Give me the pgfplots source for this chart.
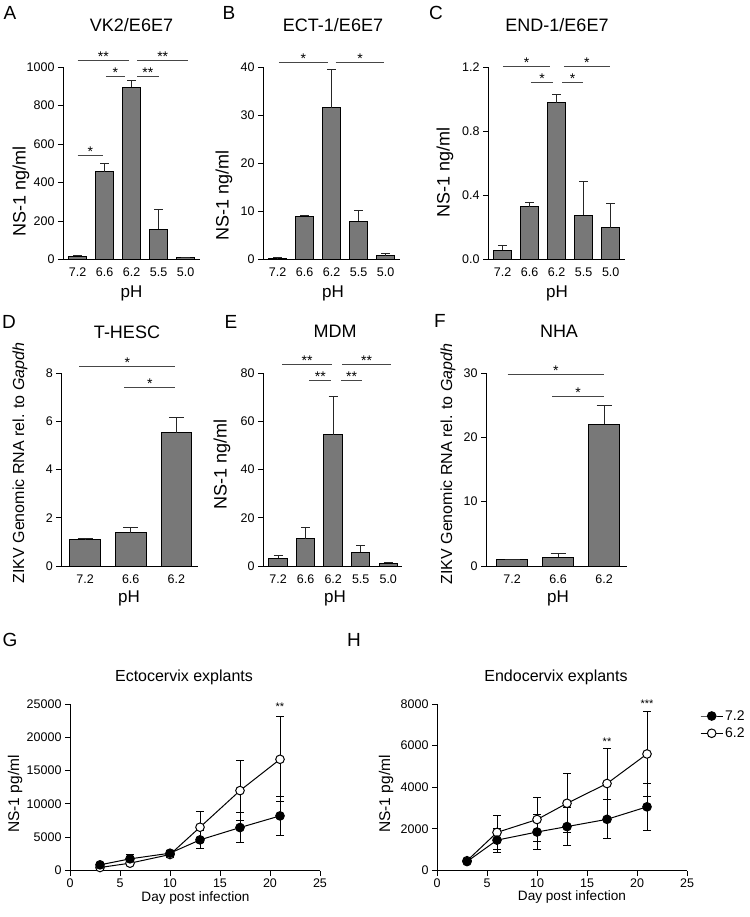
\documentclass[border=0pt]{standalone}
\usepackage{fontspec}
\setmainfont{Liberation Sans}
\usepackage{pgfplots}
\pgfplotsset{compat=1.18}
\definecolor{barfill}{RGB}{120,120,120}
\definecolor{sigcol}{RGB}{70,70,70}
\newcommand{\fs}[1]{\fontsize{#1bp}{#1bp}\selectfont}
\newcommand{\sig}[4]{\draw[sigcol, line width=1bp] (axis cs:#1,#3) -- node[midway, anchor=base, yshift=-1bp, black, font=\fs{14}, inner sep=0pt] {#4} (axis cs:#2,#3);}
\newcommand{\sigs}[3]{\node[anchor=base, black, font=\fs{11}, inner sep=0pt] at (axis cs:#1,#2) {#3};}
\pgfplotsset{
  gp/.style={
    scale only axis, anchor=south west,
    axis lines=left,
    axis line style={-, line width=1bp, black},
    x axis line style={-}, y axis line style={-},
    tick align=outside,
    major tick length=5bp,
    tick style={line width=1bp, black},
    tick label style={font=\fs{12.5}},
    /pgf/number format/assume math mode=true,
    /pgf/number format/1000 sep={},
    scaled y ticks=false, scaled x ticks=false,
    clip=false, ymin=0,
  },
  barax/.style={gp, xtick={0,...,4}, xticklabels={7.2,6.6,6.2,5.5,5.0},
    xtick style={draw=none}, xmin=-0.54, xmax=4.53, width=137bp, height=192.5bp},
  barax3/.style={gp, xtick={0,1,2}, xticklabels={7.2,6.6,6.2},
    xtick style={draw=none}, height=193bp},
  bars/.style={ybar, bar width=0.67, fill=barfill, draw=black, line width=1bp,
    error bars/.cd, y dir=plus, y explicit,
    error bar style={line width=1bp, black!85},
    error mark options={rotate=90, line width=1bp, black!85, mark size=#1}},
  bars/.default=4.5bp,
  lineax/.style={gp, width=250bp, height=166.5bp, xmin=0, xmax=25, xtick={0,5,...,25}},
  ser/.style={black, line width=1bp, mark=*, mark size=4.3bp, mark options={fill=#1, draw=black, line width=1bp},
    error bars/.cd, y dir=both, y explicit,
    error bar style={line width=1bp, black},
    error mark options={rotate=90, line width=1bp, black, mark size=4bp}},
}
\begin{document}
\begin{tikzpicture}
\useasboundingbox (0,0) rectangle (750bp,-917bp);
% ---------- panel letters ----------
\node[font=\fs{19}] at (10bp,-13bp) {A};
\node[font=\fs{19}] at (229bp,-13bp) {B};
\node[font=\fs{19}] at (436bp,-13bp) {C};
\node[font=\fs{19}] at (9bp,-322bp) {D};
\node[font=\fs{19}] at (231bp,-322bp) {E};
\node[font=\fs{19}] at (440bp,-321bp) {F};
\node[font=\fs{19}] at (10bp,-640bp) {G};
\node[font=\fs{19}] at (354bp,-640bp) {H};
% ---------- titles ----------
\node[font=\fs{18}] at (131.5bp,-25bp) {VK2/E6E7};
\node[font=\fs{18}] at (333bp,-25bp) {ECT-1/E6E7};
\node[font=\fs{18}] at (557bp,-25bp) {END-1/E6E7};
\node[font=\fs{18}] at (127bp,-332bp) {T-HESC};
\node[font=\fs{18}] at (335bp,-331bp) {MDM};
\node[font=\fs{18}] at (559bp,-331bp) {NHA};
\node[font=\fs{16}] at (184bp,-677bp) {Ectocervix explants};
\node[font=\fs{16}] at (556bp,-677bp) {Endocervix explants};
% ---------- axis labels ----------
\node[font=\fs{18}, rotate=90] at (21bp,-191bp) {NS-1 ng/ml};
\node[font=\fs{18}, rotate=90] at (224bp,-195bp) {NS-1 ng/ml};
\node[font=\fs{18}, rotate=90] at (445bp,-172bp) {NS-1 ng/ml};
\node[font=\fs{16}, rotate=90] at (20bp,-463bp) {ZIKV Genomic RNA rel. to \textit{Gapdh}};
\node[font=\fs{18}, rotate=90] at (222bp,-464bp) {NS-1 ng/ml};
\node[font=\fs{16}, rotate=90] at (448bp,-464bp) {ZIKV Genomic RNA rel. to \textit{Gapdh}};
\node[font=\fs{15.5}, rotate=90] at (15bp,-794bp) {NS-1 pg/ml};
\node[font=\fs{15.5}, rotate=90] at (386bp,-794bp) {NS-1 pg/ml};
\node[font=\fs{17}] at (131.5bp,-293bp) {pH};
\node[font=\fs{17}] at (333bp,-293bp) {pH};
\node[font=\fs{17}] at (557bp,-293bp) {pH};
\node[font=\fs{17}] at (129bp,-598bp) {pH};
\node[font=\fs{17}] at (335bp,-598bp) {pH};
\node[font=\fs{17}] at (558bp,-598bp) {pH};
\node[font=\fs{13.6}] at (195.5bp,-898bp) {Day post infection};
\node[font=\fs{13.6}] at (572bp,-897bp) {Day post infection};

% ---------- A ----------
\begin{axis}[barax, at={(63bp,-259.5bp)}, ymax=1000, ytick={0,200,...,1000}]
\addplot[bars] coordinates {(0,18) +- (0,3) (1,455) +- (0,42) (2,894) +- (0,35) (3,157) +- (0,101) (4,8) +- (0,4)};
\sig{0}{1.9}{1036}{**}
\sig{2.2}{4.1}{1036}{**}
\sig{1.05}{1.75}{953}{*}
\sig{2.2}{3.0}{953}{**}
\sig{0}{0.95}{538}{*}
\end{axis}
% ---------- B ----------
\begin{axis}[barax, at={(263bp,-259.5bp)}, ymax=40, ytick={0,10,...,40}]
\addplot[bars] coordinates {(0,0.3) +- (0,0.1) (1,9.0) +- (0,0.2) (2,31.5) +- (0,8.0) (3,8.0) +- (0,2.2) (4,0.8) +- (0,0.4)};
\sig{0.05}{1.85}{41.0}{*}
\sig{2.15}{3.95}{41.0}{*}
\end{axis}
% ---------- C ----------
\begin{axis}[barax, at={(488bp,-259.5bp)}, ymax=1.2, ytick={0,0.4,0.8,1.2},
  yticklabel style={/pgf/number format/.cd, fixed, fixed zerofill, precision=1}]
\addplot[bars] coordinates {(0,0.058) +- (0,0.031) (1,0.328) +- (0,0.027) (2,0.976) +- (0,0.052) (3,0.276) +- (0,0.208) (4,0.197) +- (0,0.152)};
\sig{0.01}{1.76}{1.206}{*}
\sig{2.27}{3.97}{1.206}{*}
\sig{1.05}{1.87}{1.106}{*}
\sig{2.2}{2.98}{1.106}{*}
\end{axis}
% ---------- D ----------
\begin{axis}[barax3, at={(61.3bp,-566bp)}, width=137bp, xmin=-0.52, xmax=2.48, ymax=8, ytick={0,2,...,8}]
\addplot[bars=7.5bp] coordinates {(0,1.08) +- (0,0.07) (1,1.38) +- (0,0.21) (2,5.52) +- (0,0.63)};
\sig{-0.13}{1.98}{8.29}{*}
\sig{0.86}{1.98}{7.42}{*}
\end{axis}
% ---------- E ----------
\begin{axis}[barax, at={(263bp,-566bp)}, width=139bp, height=193bp, xmin=-0.55, xmax=4.5, ymax=80, ytick={0,20,...,80}]
\addplot[bars] coordinates {(0,3.2) +- (0,1.1) (1,11.2) +- (0,4.7) (2,54.5) +- (0,15.8) (3,5.7) +- (0,2.6) (4,1.1) +- (0,0.4)};
\sig{0.15}{1.96}{83.4}{**}
\sig{2.33}{4.1}{83.4}{**}
\sig{1.13}{1.93}{76.8}{**}
\sig{2.29}{3.05}{76.8}{**}
\end{axis}
% ---------- F ----------
\begin{axis}[barax3, at={(486bp,-566bp)}, width=141bp, xmin=-0.57, xmax=2.5, ymax=30, ytick={0,10,20,30}]
\addplot[bars=7.5bp] coordinates {(0,1.03) +- (0,0.05) (1,1.34) +- (0,0.63) (2,22.0) +- (0,3.0)};
\sig{-0.1}{2.0}{29.7}{*}
\sig{0.87}{2.0}{26.4}{*}
\end{axis}
% ---------- G ----------
\begin{axis}[lineax, at={(70bp,-870.5bp)}, ymax=25000, ytick={0,5000,...,25000}]
\addplot[ser=white] coordinates {(3,450) +- (0,200) (6,1100) +- (0,300) (10,2400) +- (0,500) (13,6500) +- (0,2300) (17,12000) +- (0,4500) (21,16700) +- (0,6350)};
\addplot[ser=black] coordinates {(3,850) +- (0,250) (6,1750) +- (0,650) (10,2600) +- (0,400) (13,4600) +- (0,1350) (17,6450) +- (0,2250) (21,8200) +- (0,2900)};
\sigs{21}{24000}{**}
\end{axis}
% ---------- H ----------
\begin{axis}[lineax, at={(437bp,-870.5bp)}, ymax=8000, ytick={0,2000,...,8000},
  legend style={at={(axis cs:26.3,7800)}, anchor=north west, draw=none, fill=none,
    font=\fs{14}, inner sep=0pt, row sep=2bp, cells={anchor=west}},
  legend image code/.code={\draw[mark repeat=2,mark phase=2,#1] plot coordinates {(0bp,0bp) (11bp,0bp) (22bp,0bp)};},
  reverse legend]
\addplot[ser=white] coordinates {(3,470) +- (0,100) (6,1830) +- (0,800) (10,2450) +- (0,1050) (13,3230) +- (0,1410) (17,4180) +- (0,1690) (21,5600) +- (0,2060)};
\addlegendentry{6.2}
\addplot[ser=black] coordinates {(3,430) +- (0,80) (6,1460) +- (0,580) (10,1850) +- (0,830) (13,2110) +- (0,930) (17,2460) +- (0,930) (21,3060) +- (0,1120)};
\addlegendentry{7.2}
\sigs{17}{6000}{**}
\sigs{21}{7850}{***}
\end{axis}
\end{tikzpicture}
\end{document}
